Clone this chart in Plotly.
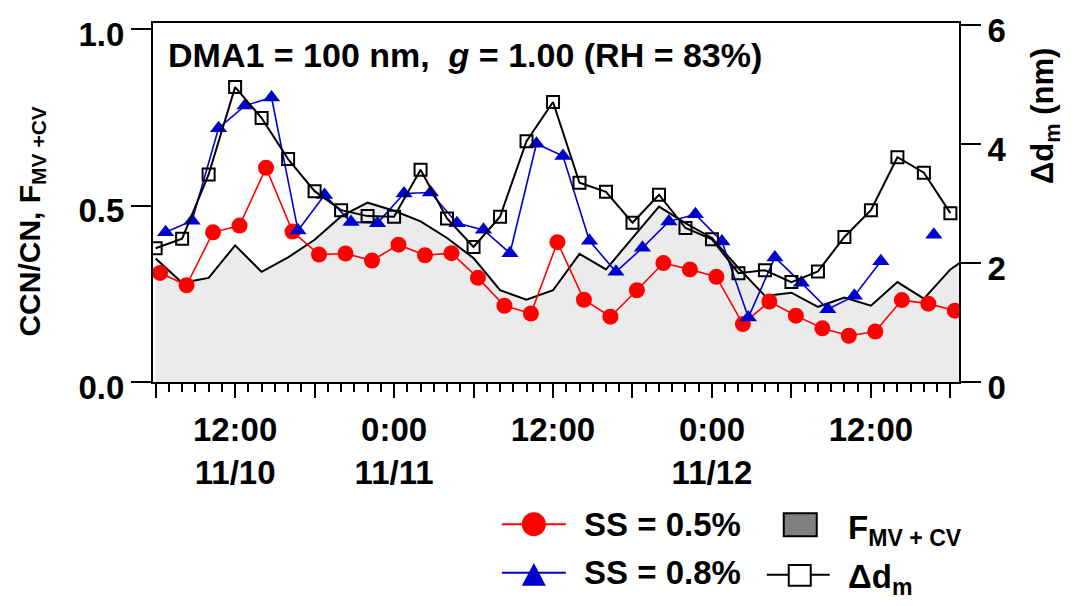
import plotly.graph_objects as go

# ---------------- data ----------------
t_even = [
    "2009-11-10 06:00", "2009-11-10 08:00", "2009-11-10 10:00", "2009-11-10 12:00",
    "2009-11-10 14:00", "2009-11-10 16:00", "2009-11-10 18:00", "2009-11-10 20:00",
    "2009-11-10 22:00", "2009-11-11 00:00", "2009-11-11 02:00", "2009-11-11 04:00",
    "2009-11-11 06:00", "2009-11-11 08:00", "2009-11-11 10:00", "2009-11-11 12:00",
    "2009-11-11 14:00", "2009-11-11 16:00", "2009-11-11 18:00", "2009-11-11 20:00",
    "2009-11-11 22:00", "2009-11-12 00:00", "2009-11-12 02:00", "2009-11-12 04:00",
    "2009-11-12 06:00", "2009-11-12 08:00", "2009-11-12 10:00", "2009-11-12 12:00",
    "2009-11-12 14:00", "2009-11-12 16:00", "2009-11-12 18:00",
]
t_fill = t_even + ["2009-11-12 20:00"]
t_ss05 = [
    "2009-11-10 06:20", "2009-11-10 08:20", "2009-11-10 10:20", "2009-11-10 12:20",
    "2009-11-10 14:20", "2009-11-10 16:20", "2009-11-10 18:20", "2009-11-10 20:20",
    "2009-11-10 22:20", "2009-11-11 00:20", "2009-11-11 02:20", "2009-11-11 04:20",
    "2009-11-11 06:20", "2009-11-11 08:20", "2009-11-11 10:20", "2009-11-11 12:20",
    "2009-11-11 14:20", "2009-11-11 16:20", "2009-11-11 18:20", "2009-11-11 20:20",
    "2009-11-11 22:20", "2009-11-12 00:20", "2009-11-12 02:20", "2009-11-12 04:20",
    "2009-11-12 06:20", "2009-11-12 08:20", "2009-11-12 10:20", "2009-11-12 12:20",
    "2009-11-12 14:20", "2009-11-12 16:20", "2009-11-12 18:20",
]
t_ss08 = [
    "2009-11-10 06:45", "2009-11-10 08:45", "2009-11-10 10:45", "2009-11-10 12:45",
    "2009-11-10 14:45", "2009-11-10 16:45", "2009-11-10 18:45", "2009-11-10 20:45",
    "2009-11-10 22:45", "2009-11-11 00:45", "2009-11-11 02:45", "2009-11-11 04:45",
    "2009-11-11 06:45", "2009-11-11 08:45", "2009-11-11 10:45", "2009-11-11 12:45",
    "2009-11-11 14:45", "2009-11-11 16:45", "2009-11-11 18:45", "2009-11-11 20:45",
    "2009-11-11 22:45", "2009-11-12 00:45", "2009-11-12 02:45", "2009-11-12 04:45",
    "2009-11-12 06:45", "2009-11-12 08:45", "2009-11-12 10:45", "2009-11-12 12:45",
    "2009-11-12 14:45", "2009-11-12 16:45", "2009-11-12 18:45",
]

ccn_ss05 = [0.309, 0.274, 0.424, 0.443, 0.607, 0.426, 0.361, 0.364, 0.344, 0.389,
            0.359, 0.365, 0.295, 0.216, 0.194, 0.396, 0.233, 0.185, 0.260, 0.337,
            0.319, 0.298, 0.164, 0.228, 0.188, 0.152, 0.131, 0.143, 0.232, 0.222,
            0.202]
ccn_ss08 = [0.424, 0.457, 0.719, 0.783, 0.806, 0.429, 0.530, 0.453, 0.450, 0.534,
            0.537, 0.450, 0.431, 0.365, 0.675, 0.640, 0.400, 0.312, 0.380, 0.455,
            0.475, 0.398, 0.183, 0.353, 0.281, 0.206, 0.244, 0.342, None, 0.417,
            None]
f_mv_cv = [0.350, 0.281, 0.295, 0.387, 0.312, 0.353, 0.403, 0.469, 0.508, 0.485,
           0.455, 0.408, 0.351, 0.260, 0.233, 0.260, 0.363, 0.319, 0.408, 0.497,
           0.450, 0.408, 0.323, 0.244, 0.253, 0.213, 0.239, 0.216, 0.283, 0.236,
           0.319, 0.370]
delta_dm = [2.25, 2.41, 3.49, 4.96, 4.44, 3.75, 3.21, 2.89, 2.79, 2.78,
            3.57, 2.75, 2.27, 2.78, 4.05, 4.71, 3.35, 3.20, 2.68, 3.15,
            2.59, 2.40, 1.83, 1.88, 1.68, 1.86, 2.44, 2.89, 3.78, 3.52,
            2.84]

tick_vals = ["2009-11-10 06:00", "2009-11-10 12:00", "2009-11-10 18:00",
             "2009-11-11 00:00", "2009-11-11 06:00", "2009-11-11 12:00",
             "2009-11-11 18:00", "2009-11-12 00:00", "2009-11-12 06:00",
             "2009-11-12 12:00", "2009-11-12 18:00"]
tick_text = ["", "12:00<br>11/10", "", "0:00<br>11/11", "", "12:00<br>",
             "", "0:00<br>11/12", "", "12:00<br>", ""]

FONT = "Liberation Sans, Arial, sans-serif"
RED = "#ff0000"
BLUE = "#0000cc"

# ---------------- figure ----------------
fig = go.Figure()
fig.add_trace(go.Scatter(x=t_fill, y=f_mv_cv, mode="lines", fill="tozeroy",
                         fillcolor="#ebebeb", line=dict(color="black", width=2),
                         showlegend=False, yaxis="y"))
fig.add_trace(go.Scatter(x=t_ss05, y=ccn_ss05, mode="lines+markers",
                         line=dict(color=RED, width=1.6),
                         marker=dict(symbol="circle", size=16, color=RED),
                         showlegend=False, yaxis="y"))
fig.add_trace(go.Scatter(x=t_ss08, y=ccn_ss08, mode="lines+markers",
                         connectgaps=False,
                         line=dict(color=BLUE, width=1.6),
                         marker=dict(symbol="triangle-up", size=15, color=BLUE),
                         showlegend=False, yaxis="y"))
fig.add_trace(go.Scatter(x=t_even, y=delta_dm, mode="lines+markers",
                         line=dict(color="black", width=2),
                         marker=dict(symbol="square-open", size=12, color="black",
                                     line=dict(width=2)),
                         showlegend=False, yaxis="y2"))

L, R, T, B = 153, 959.3, 20, 381.7
W, H = R - L, B - T


def PX(px):
    return (px - L) / W


def PY(py):
    return (B - py) / H


shapes = []
annotations = []

# title inside plot
annotations.append(dict(x=PX(166), y=PY(52), xref="paper", yref="paper",
                        xanchor="left", yanchor="middle", showarrow=False,
                        text="DMA1 = 100 nm,  <i>g</i> = 1.00 (RH = 83%)",
                        font=dict(size=34, family=FONT, color="black", weight="bold")))
# axis titles
annotations.append(dict(x=PX(31), y=PY(220), xref="paper", yref="paper",
                        xanchor="center", yanchor="middle", showarrow=False,
                        textangle=-90, text="CCN/CN, F<sub>MV +CV</sub>",
                        font=dict(size=30, family=FONT, color="black", weight="bold")))
annotations.append(dict(x=PX(1046), y=PY(114), xref="paper", yref="paper",
                        xanchor="center", yanchor="middle", showarrow=False,
                        textangle=-90, text="Δd<sub>m</sub> (nm)",
                        font=dict(size=31, family=FONT, color="black", weight="bold")))

# legend (drawn manually)
lf = dict(size=33, family=FONT, color="black", weight="bold")
y1, y2 = 525, 574
shapes.append(dict(type="line", xref="paper", yref="paper", x0=PX(502), x1=PX(566),
                   y0=PY(y1), y1=PY(y1), line=dict(color=RED, width=2)))
shapes.append(dict(type="circle", xref="paper", yref="paper", x0=PX(522), x1=PX(546),
                   y0=PY(y1 + 12), y1=PY(y1 - 12), fillcolor=RED, line=dict(width=0)))
annotations.append(dict(x=PX(582), y=PY(y1), xref="paper", yref="paper",
                        xanchor="left", yanchor="middle", showarrow=False,
                        text="SS = 0.5%", font=lf))
shapes.append(dict(type="rect", xref="paper", yref="paper", x0=PX(784), x1=PX(817),
                   y0=PY(537), y1=PY(514), fillcolor="#808080",
                   line=dict(color="black", width=2)))
annotations.append(dict(x=PX(846), y=PY(y1 + 6), xref="paper", yref="paper",
                        xanchor="left", yanchor="middle", showarrow=False,
                        text="F<sub>MV + CV</sub>", font=lf))

shapes.append(dict(type="line", xref="paper", yref="paper", x0=PX(502), x1=PX(566),
                   y0=PY(y2), y1=PY(y2), line=dict(color=BLUE, width=2)))
shapes.append(dict(type="path", xref="paper", yref="paper",
                   path=f"M{PX(522)},{PY(587)} L{PX(546)},{PY(587)} L{PX(534)},{PY(564)} Z",
                   fillcolor=BLUE, line=dict(width=0)))
annotations.append(dict(x=PX(582), y=PY(y2), xref="paper", yref="paper",
                        xanchor="left", yanchor="middle", showarrow=False,
                        text="SS = 0.8%", font=lf))
shapes.append(dict(type="line", xref="paper", yref="paper", x0=PX(767), x1=PX(830),
                   y0=PY(576), y1=PY(576), line=dict(color="black", width=2)))
shapes.append(dict(type="rect", xref="paper", yref="paper", x0=PX(789), x1=PX(811),
                   y0=PY(587), y1=PY(566), fillcolor="white",
                   line=dict(color="black", width=2)))
annotations.append(dict(x=PX(846), y=PY(y2 + 6), xref="paper", yref="paper",
                        xanchor="left", yanchor="middle", showarrow=False,
                        text="Δd<sub>m</sub>", font=lf))

axfont = dict(size=33, family=FONT, color="black", weight="bold")
fig.update_layout(
    width=1076, height=606,
    margin=dict(l=L, r=1076 - R, t=T, b=606 - B, pad=0),
    paper_bgcolor="white", plot_bgcolor="white",
    font=dict(family=FONT, color="black"),
    showlegend=False,
    xaxis=dict(type="date", range=["2009-11-10 05:48", "2009-11-12 18:39"],
               tickmode="array", tickvals=tick_vals, ticktext=tick_text,
               ticks="outside", ticklen=14, tickwidth=2, tickcolor="black",
               showline=True, linecolor="black", linewidth=2, mirror=True,
               showgrid=False, zeroline=False, tickfont=axfont,
               ticklabelstandoff=3,
               minor=dict(dtick=3600000, tick0="2009-11-10 00:00", ticks="outside",
                          ticklen=8, tickwidth=2, tickcolor="black", showgrid=False)),
    yaxis=dict(range=[0, 1.017], tickvals=[0, 0.5, 1.0], ticktext=["0.0", "0.5", "1.0"],
               ticks="outside", ticklen=20, tickwidth=2, tickcolor="black",
               showline=True, linecolor="black", linewidth=2, ticklabelshift=5,
               showgrid=False, zeroline=False, tickfont=axfont),
    yaxis2=dict(range=[0, 6.038], tickvals=[0, 2, 4, 6], overlaying="y", side="right",
                ticks="outside", ticklen=20, tickwidth=2, tickcolor="black",
                showline=True, linecolor="black", linewidth=2, ticklabelshift=5,
                showgrid=False, zeroline=False, tickfont=axfont),
    shapes=shapes, annotations=annotations,
)

fig.write_html("out.html")
